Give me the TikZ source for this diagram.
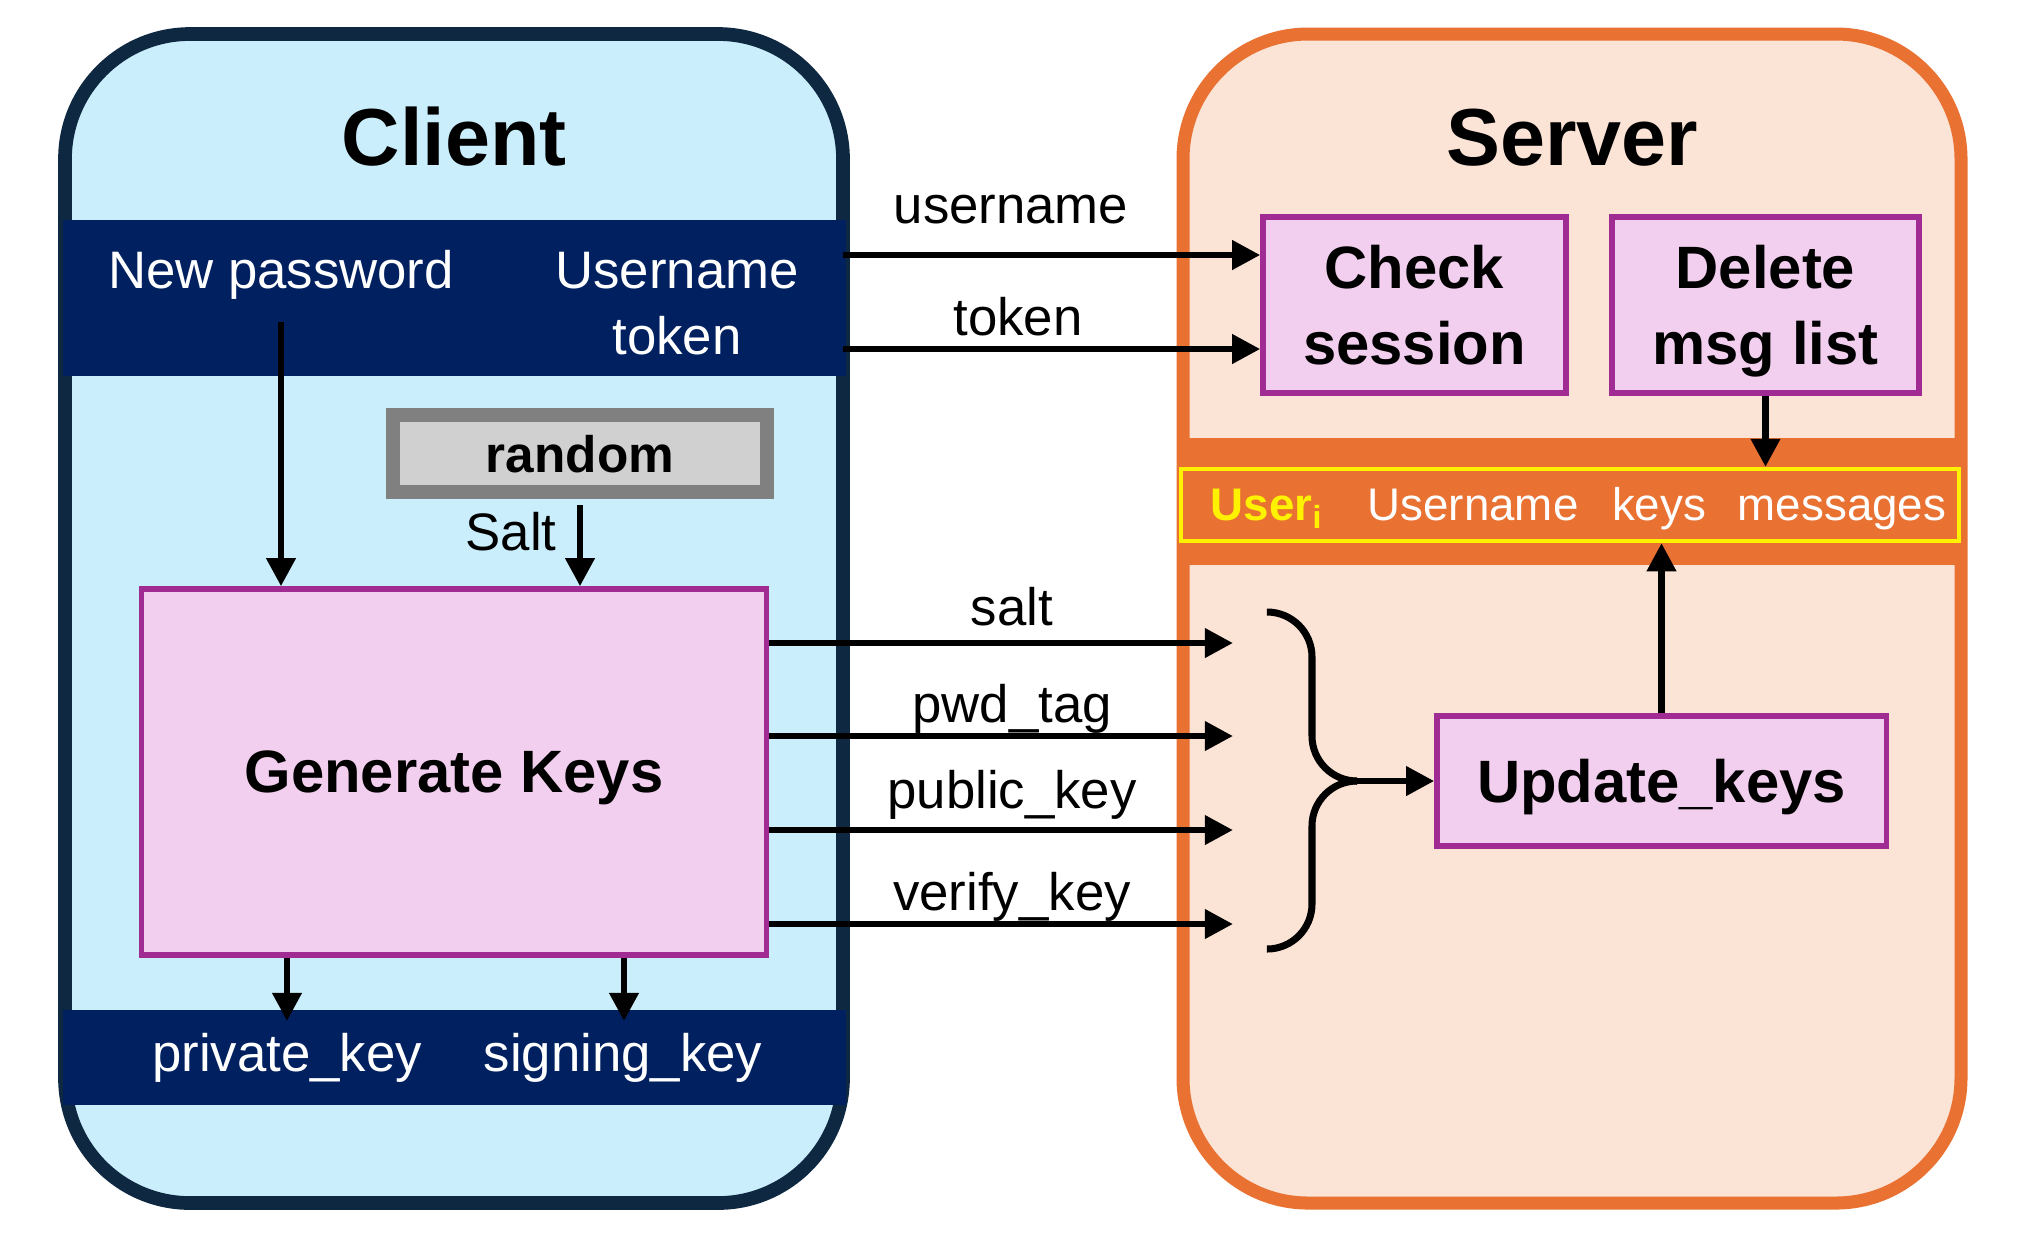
\documentclass[tikz,border=0pt]{standalone}
\usepackage{fontspec}
\setmainfont{Liberation Sans}
\usetikzlibrary{arrows.meta,positioning}
\definecolor{clientfill}{HTML}{CAEEFB}
\definecolor{clientline}{HTML}{0E2841}
\definecolor{navyband}{HTML}{002060}
\definecolor{serverfill}{HTML}{FBE3D6}
\definecolor{serverline}{HTML}{E97132}
\definecolor{procline}{HTML}{A02B93}
\definecolor{procfill}{HTML}{F2CEEF}
\definecolor{randline}{HTML}{808080}
\definecolor{randfill}{HTML}{D0D0D0}

\tikzset{
  procbox/.style={draw=procline, fill=procfill, line width=1.5pt, inner sep=0pt, align=center,
    text depth=0pt, font=\fontsize{17}{21.5}\selectfont\bfseries},
  arr/.style={line width=1.9pt, -{Triangle[length=8pt,width=8pt]}},
  brace/.style={line width=2pt, rounded corners=0.45cm},
  lbl/.style={inner sep=0pt, anchor=base, font=\fontsize{15}{18}\selectfont},
  wlbl/.style={lbl, text=white},
  rowlbl/.style={inner sep=0pt, anchor=base, text=white, font=\fontsize{13}{16}\selectfont},
  title/.style={inner sep=0pt, anchor=base, font=\fontsize{23}{28}\selectfont\bfseries},
}

\begin{document}
\begin{tikzpicture}[x=0.01cm, y=-0.01cm]
    \useasboundingbox (0,0) rectangle (2033,1256);
    \fill[white] (0,0) rectangle (2033,1256);

    % Client frame with its two bands
    \begin{scope}
        \clip[rounded corners=1.25cm] (65,34) rectangle (843,1203);
        \fill[clientfill] (65,34) rectangle (843,1203);
    \end{scope}
    \draw[clientline, line width=3.9pt, rounded corners=1.25cm] (65,34) rectangle (843,1203);
    \fill[navyband] (63,220) rectangle (846,376);
    \fill[navyband] (63,1010) rectangle (846,1105);

    % Server frame with the table band
    \begin{scope}
        \clip[rounded corners=1.25cm] (1183,34) rectangle (1961,1203);
        \fill[serverfill] (1183,34) rectangle (1961,1203);
        \fill[serverline] (1183,438) rectangle (1961,565);
    \end{scope}
    \draw[serverline, line width=3.7pt, rounded corners=1.25cm] (1183,34) rectangle (1961,1203);

    % Titles
    \node[title] (clienttitle) at (454,165) {Client};
    \node[title] (servertitle) at (1572,165) {Server};

    % Client inputs and outputs
    \node[wlbl] (newpw) at (281,288) {New password};
    \node[wlbl] (uname) at (677,288) {Username};
    \node[wlbl] (token) at (677,354) {token};
    \node[wlbl] (privk) at (287,1071) {private\_key};
    \node[wlbl] (signk) at (623,1071) {signing\_key};

    % Client blocks
    \node[draw=randline, fill=randfill, line width=3.8pt, inner sep=0pt,
          minimum width=3.74cm, minimum height=0.77cm, text depth=0pt,
          font=\fontsize{14.6}{17}\selectfont\bfseries] (rand) at (580,453.5) {random};
    \node[procbox, minimum width=6.25cm, minimum height=3.66cm] (gen) at (454,772) {Generate Keys};
    \node[lbl] (saltlbl) at (511,550) {Salt};

    % Server blocks
    \node[procbox, minimum width=3.03cm, minimum height=1.76cm] (check) at (1414.5,305) {Check\\session};
    \node[procbox, minimum width=3.07cm, minimum height=1.76cm] (del) at (1765.5,305) {Delete\\msg list};
    \node[procbox, minimum width=4.49cm, minimum height=1.30cm] (upd) at (1661.5,781) {Update\_keys};

    % User table row
    \node[draw=yellow, line width=1.2pt, inner sep=0pt, minimum width=7.78cm, minimum height=0.72cm] (users) at (1570,505) {};
    \node[rowlbl, text=yellow, font=\fontsize{13}{16}\selectfont\bfseries] (useri) at (1267,520) {User\textsubscript{i}};
    \node[rowlbl] (colname) at (1473,520) {Username};
    \node[rowlbl] (colkeys) at (1659,520) {keys};
    \node[rowlbl] (colmsgs) at (1842,520) {messages};

    % Client arrows
    \coordinate (pwdown) at (281,322);
    \coordinate (pk) at (287,1021);
    \coordinate (sk) at (624,1021);
    \draw[arr] (pwdown) -- (pwdown |- gen.north);
    \draw[arr, shorten <=1.9pt] (rand.south) -- (rand.south |- gen.north);
    \draw[arr] (gen.south -| pk) -- (pk);
    \draw[arr] (gen.south -| sk) -- (sk);

    % Session check
    \coordinate (uout) at (843,255);
    \coordinate (tout) at (843,349);
    \draw[arr] (uout) -- (uout -| check.west);
    \draw[arr] (tout) -- (tout -| check.west);
    \node[lbl] (unlbl) at (1011,223) {username};
    \node[lbl] (tklbl) at (1018,335) {token};

    % Key upload
    \foreach \y/\b/\t [count=\i] in {643/625/salt, 736/722/pwd\_tag, 830/808/public\_key, 924/910/verify\_key} {
        \coordinate (in\i) at (1233,\y);
        \draw[arr] (gen.east |- in\i) -- (in\i);
        \node[lbl] (sent\i) at (1012,\b) {\t};
    }

    % Brace into Update_keys
    \coordinate (tip) at (1357,781);
    \draw[brace] (1267,612) -| (1312,781) -- (tip);
    \draw[brace] (1267,949) -| (1312,781) -- (tip);
    \draw[arr] (tip) -- (upd.west);

    % Table updates
    \draw[arr] (del.south) -- (del.south |- users.north);
    \draw[arr] (upd.north) -- (upd.north |- users.south);
\end{tikzpicture}
\end{document}
